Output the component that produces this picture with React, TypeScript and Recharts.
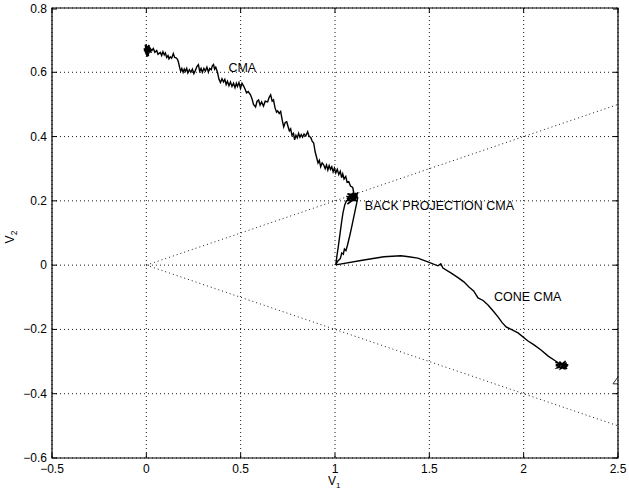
import React from 'react';
import {
  LineChart,
  Line,
  XAxis,
  YAxis,
  CartesianGrid,
  ReferenceArea,
  ReferenceDot,
} from 'recharts';

const CHART_W = 629;
const CHART_H = 490;
const MARGIN = { top: 8, right: 11, bottom: 0, left: 0 };
const Y_AXIS_W = 52;
const X_AXIS_H = 32;
const FONT = '"Liberation Sans", Arial, Helvetica, sans-serif';

const X_TICKS = [-0.5, 0, 0.5, 1, 1.5, 2, 2.5];
const Y_TICKS = [-0.6, -0.4, -0.2, 0, 0.2, 0.4, 0.6, 0.8];

// cone boundaries (dotted)
const CONE_UPPER: [number, number][] = [[0, 0], [2.5, 0.5]];
const CONE_LOWER: [number, number][] = [[0, 0], [2.5, -0.5]];

// plain CMA path
const CMA_PATH: [number, number][] = [
  [0.0, 0.655], [-0.012, 0.675], [0.005, 0.648], [-0.006, 0.686], [0.01, 0.652],
  [-0.01, 0.668], [0.0, 0.682], [0.012, 0.65], [-0.004, 0.672], [0.015, 0.685],
  [0.004, 0.66], [0.018, 0.678], [0.008, 0.652], [0.022, 0.672], [0.012, 0.684],
  [0.026, 0.66], [0.018, 0.676], [0.03, 0.668], [0.037, 0.674], [0.045, 0.662],
  [0.055, 0.668], [0.062, 0.656], [0.074, 0.662], [0.081, 0.652], [0.088, 0.664],
  [0.095, 0.654], [0.101, 0.66], [0.108, 0.646], [0.115, 0.652], [0.12, 0.642],
  [0.127, 0.648], [0.134, 0.644], [0.143, 0.658], [0.15, 0.646], [0.158, 0.645],
  [0.165, 0.64], [0.17, 0.632], [0.176, 0.616], [0.182, 0.603], [0.188, 0.612],
  [0.195, 0.6], [0.201, 0.61], [0.207, 0.603], [0.214, 0.612], [0.22, 0.598],
  [0.228, 0.608], [0.236, 0.6], [0.244, 0.61], [0.252, 0.596], [0.26, 0.606],
  [0.268, 0.618], [0.276, 0.624], [0.283, 0.603], [0.29, 0.612], [0.297, 0.6],
  [0.305, 0.612], [0.313, 0.604], [0.321, 0.616], [0.329, 0.6], [0.336, 0.612],
  [0.344, 0.608], [0.35, 0.62], [0.356, 0.624], [0.362, 0.61], [0.368, 0.616],
  [0.377, 0.6], [0.385, 0.578], [0.393, 0.568], [0.401, 0.58], [0.409, 0.57],
  [0.416, 0.578], [0.423, 0.562], [0.43, 0.572], [0.438, 0.558], [0.446, 0.57],
  [0.454, 0.556], [0.462, 0.566], [0.47, 0.552], [0.477, 0.566], [0.483, 0.556],
  [0.491, 0.568], [0.499, 0.55], [0.507, 0.566], [0.515, 0.558], [0.523, 0.548],
  [0.531, 0.536], [0.54, 0.54], [0.552, 0.53], [0.56, 0.518], [0.568, 0.5],
  [0.579, 0.492], [0.587, 0.51], [0.595, 0.514], [0.603, 0.498], [0.611, 0.508],
  [0.621, 0.495], [0.63, 0.51], [0.643, 0.508], [0.651, 0.522], [0.659, 0.53],
  [0.667, 0.51], [0.674, 0.514], [0.682, 0.49], [0.69, 0.476], [0.696, 0.48],
  [0.704, 0.472], [0.712, 0.478], [0.72, 0.452], [0.728, 0.43], [0.736, 0.444],
  [0.744, 0.446], [0.752, 0.43], [0.758, 0.418], [0.765, 0.424], [0.772, 0.404],
  [0.78, 0.41], [0.786, 0.39], [0.793, 0.404], [0.8, 0.396], [0.807, 0.41],
  [0.814, 0.398], [0.821, 0.406], [0.828, 0.398], [0.836, 0.408], [0.845, 0.402],
  [0.855, 0.415], [0.863, 0.4], [0.871, 0.398], [0.879, 0.386], [0.887, 0.38],
  [0.895, 0.352], [0.903, 0.334], [0.91, 0.318], [0.917, 0.326], [0.924, 0.306],
  [0.932, 0.318], [0.94, 0.312], [0.948, 0.3], [0.955, 0.312], [0.962, 0.296],
  [0.969, 0.31], [0.976, 0.298], [0.983, 0.306], [0.99, 0.29], [0.997, 0.302],
  [1.004, 0.287], [1.012, 0.298], [1.02, 0.282], [1.028, 0.292], [1.035, 0.272],
  [1.041, 0.284], [1.048, 0.268], [1.057, 0.276], [1.064, 0.258], [1.073, 0.26],
  [1.082, 0.246], [1.094, 0.242], [1.099, 0.226],
  [1.07, 0.212], [1.11, 0.224], [1.058, 0.198], [1.116, 0.218], [1.062, 0.206],
  [1.12, 0.22], [1.066, 0.19], [1.112, 0.21], [1.06, 0.214], [1.118, 0.2],
  [1.072, 0.202], [1.122, 0.226], [1.078, 0.196], [1.108, 0.218], [1.066, 0.222],
  [1.114, 0.206], [1.08, 0.21], [1.121, 0.214],
];

// back projection CMA loop
const BACK_PATH: [number, number][] = [
  [1.121, 0.212], [1.116, 0.196], [1.106, 0.168], [1.096, 0.14], [1.086, 0.112],
  [1.076, 0.086], [1.066, 0.062], [1.058, 0.045], [1.05, 0.05], [1.044, 0.034],
  [1.036, 0.038], [1.028, 0.02], [1.014, 0.012], [1.004, 0.001],
  [1.01, 0.028], [1.018, 0.06], [1.026, 0.095], [1.034, 0.13], [1.042, 0.162],
  [1.052, 0.188], [1.062, 0.202],
];

// cone CMA path
const CONE_PATH: [number, number][] = [
  [1.004, 0.001], [1.153, 0.016], [1.259, 0.026], [1.349, 0.029], [1.391, 0.026],
  [1.439, 0.022], [1.492, 0.01], [1.545, -0.002], [1.561, 0.004], [1.572, -0.009],
  [1.614, -0.024], [1.65, -0.038], [1.683, -0.052], [1.71, -0.068], [1.735, -0.08],
  [1.758, -0.102], [1.785, -0.11], [1.811, -0.124], [1.843, -0.146], [1.864, -0.161],
  [1.885, -0.178], [1.907, -0.192], [1.97, -0.211], [2.023, -0.236], [2.055, -0.248],
  [2.092, -0.264], [2.13, -0.283], [2.161, -0.295],
  [2.2, -0.31], [2.168, -0.302], [2.232, -0.315], [2.176, -0.32], [2.222, -0.298],
  [2.196, -0.322], [2.236, -0.31], [2.17, -0.31], [2.214, -0.322], [2.19, -0.3],
  [2.23, -0.322], [2.18, -0.314], [2.228, -0.304], [2.2, -0.316],
];

const ANNOTATIONS = [
  { x: 0.435, y: 0.614, text: 'CMA' },
  { x: 1.158, y: 0.187, text: 'BACK PROJECTION CMA' },
  { x: 1.843, y: -0.099, text: 'CONE CMA' },
];

const MARKER: [number, number] = [2.5, -0.36];

const toPoints = (arr: [number, number][]) => arr.map(([x, y]) => ({ x, y }));

const fmt = (v: number) => {
  const r = Math.round(v * 10) / 10;
  return r === 0 ? '0' : String(r).replace('-', '\u2212');
};

const RIGHT = CHART_W - MARGIN.right;

const XTick = (props: any) => {
  const { x, y, payload } = props;
  return (
    <g>
      <line x1={x} y1={y} x2={x} y2={y - 5} stroke="#000" />
      <line x1={x} y1={MARGIN.top} x2={x} y2={MARGIN.top + 5} stroke="#000" />
      <text x={x} y={y + 15} textAnchor="middle" fontSize={12} fontFamily={FONT} fill="#000">
        {fmt(payload.value)}
      </text>
    </g>
  );
};

const YTick = (props: any) => {
  const { x, y, payload } = props;
  return (
    <g>
      <line x1={x} y1={y} x2={x + 5} y2={y} stroke="#000" />
      <line x1={RIGHT - 5} y1={y} x2={RIGHT} y2={y} stroke="#000" />
      <text x={x - 5} y={y + 4} textAnchor="end" fontSize={12} fontFamily={FONT} fill="#000">
        {fmt(payload.value)}
      </text>
    </g>
  );
};

const XLabel = () => (
  <text x={328} y={485} fontSize={12} fontFamily={FONT} fill="#000">
    V<tspan dy={2.5} fontSize={8}>1</tspan>
  </text>
);

const YLabel = () => (
  <text
    x={14}
    y={237}
    transform="rotate(-90 14 237)"
    textAnchor="middle"
    fontSize={12}
    fontFamily={FONT}
    fill="#000"
  >
    V<tspan dy={3} fontSize={8.5}>2</tspan>
  </text>
);

export default function App() {
  return (
    <div style={{ position: 'absolute', left: 0, top: 0, background: '#fff' }}>
      <LineChart width={CHART_W} height={CHART_H} margin={MARGIN}>
        <CartesianGrid stroke="#000" strokeDasharray="1 3" strokeWidth={0.9} />
        <XAxis
          dataKey="x"
          type="number"
          domain={[-0.5, 2.5]}
          ticks={X_TICKS}
          allowDataOverflow
          height={X_AXIS_H}
          tickSize={0}
          tickMargin={0}
          tick={<XTick />}
          axisLine={false}
          tickLine={false}
          label={<XLabel />}
        />
        <YAxis
          dataKey="y"
          type="number"
          domain={[-0.6, 0.8]}
          ticks={Y_TICKS}
          allowDataOverflow
          width={Y_AXIS_W}
          tickSize={0}
          tickMargin={0}
          tick={<YTick />}
          axisLine={false}
          tickLine={false}
          label={<YLabel />}
        />
        <Line data={toPoints(CONE_UPPER)} dataKey="y" stroke="#000" strokeWidth={0.9}
          strokeDasharray="1 3" dot={false} isAnimationActive={false} type="linear" />
        <Line data={toPoints(CONE_LOWER)} dataKey="y" stroke="#000" strokeWidth={0.9}
          strokeDasharray="1 3" dot={false} isAnimationActive={false} type="linear" />
        <Line data={toPoints(CMA_PATH)} dataKey="y" stroke="#000" strokeWidth={1.4}
          dot={false} isAnimationActive={false} type="linear" />
        <Line data={toPoints(BACK_PATH)} dataKey="y" stroke="#000" strokeWidth={1.4}
          dot={false} isAnimationActive={false} type="linear" />
        <Line data={toPoints(CONE_PATH)} dataKey="y" stroke="#000" strokeWidth={1.4}
          dot={false} isAnimationActive={false} type="linear" />
        <ReferenceArea x1={-0.5} x2={2.5} y1={-0.6} y2={0.8} fill="none" stroke="#000" strokeWidth={1.2} />
        {ANNOTATIONS.map((a) => (
          <ReferenceDot
            key={a.text}
            x={a.x}
            y={a.y}
            r={0}
            shape={(p: any) => (
              <text x={p.cx} y={p.cy + 4.5} fontSize={12.5} fontFamily={FONT} fill="#000">
                {a.text}
              </text>
            )}
          />
        ))}
        <ReferenceDot
          x={MARKER[0]}
          y={MARKER[1]}
          r={0}
          shape={(p: any) => (
            <path
              d={`M${p.cx},${p.cy - 4} L${p.cx - 5},${p.cy + 3} L${p.cx},${p.cy + 3}`}
              fill="none"
              stroke="#000"
              strokeWidth={0.8}
            />
          )}
        />
      </LineChart>
    </div>
  );
}
